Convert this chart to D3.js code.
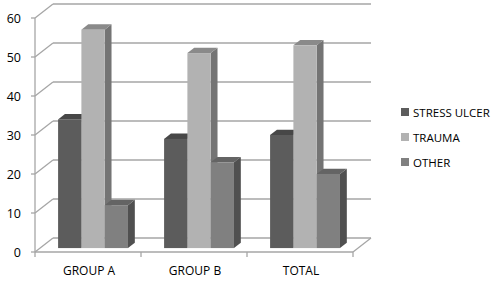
<!DOCTYPE html>
<html>
<head>
<meta charset="utf-8">
<script src="https://cdn.jsdelivr.net/npm/d3@7"></script>
<style>
  body { margin: 0; background: #fff; }
  text { font-family: "Open Sans", "Liberation Sans", sans-serif; fill: #000; }
</style>
</head>
<body>
<svg id="chart" width="500" height="284"></svg>
<script>
//////////////////// DATA ////////////////////
const categories = ["GROUP A", "GROUP B", "TOTAL"];
const seriesNames = ["STRESS ULCER", "TRAUMA", "OTHER"];
const stressUlcer = [33, 28, 29];
const trauma = [56, 50, 52];
const other = [11, 22, 19];
const yTicks = [0, 10, 20, 30, 40, 50, 60];

//////////////////// SIZES ////////////////////
const svg = d3.select("#chart");
const plot = { left: 35, right: 353, top: 18, bottom: 252 };
const depth = { dx: 18, dy: -14 };        // floor / wall depth
const barZ = { front: 0.28, back: 0.66 }; // bar position inside the depth

// colours: front, side, top
const colors = [
    { front: "#5c5c5c", side: "#454545", top: "#474747" },
    { front: "#b2b2b2", side: "#747474", top: "#8a8a8a" },
    { front: "#808080", side: "#505050", top: "#646464" }
];
const gridColor = "#a6a6a6";

//////////////////// SCALES ////////////////////
const x = d3.scaleBand().domain(categories).range([plot.left, plot.right]);
const y = d3.scaleLinear().domain([0, 60]).range([plot.bottom, plot.top]);

// project a point at depth z (0 front, 1 back)
const px = (xv, z) => xv + depth.dx * z;
const py = (yv, z) => yv + depth.dy * z;

//////////////////// WALLS ////////////////////
const walls = svg.append("g")
    .attr("stroke", gridColor)
    .attr("stroke-width", 1.3)
    .attr("fill", "none");

// back wall gridlines + left wall diagonals
yTicks.forEach(t => {
    walls.append("line")
        .attr("x1", px(plot.left, 1)).attr("y1", py(y(t), 1))
        .attr("x2", px(plot.right, 1)).attr("y2", py(y(t), 1));
    walls.append("line")
        .attr("x1", plot.left).attr("y1", y(t))
        .attr("x2", px(plot.left, 1)).attr("y2", py(y(t), 1));
    walls.append("line")
        .attr("x1", plot.left - 4).attr("y1", y(t))
        .attr("x2", plot.left).attr("y2", y(t));
});

// front vertical axis
walls.append("line")
    .attr("x1", plot.left).attr("y1", y(60))
    .attr("x2", plot.left).attr("y2", y(0));

// floor front edge and right edge
walls.append("line")
    .attr("x1", plot.left).attr("y1", y(0))
    .attr("x2", plot.right).attr("y2", y(0));
walls.append("line")
    .attr("x1", plot.right).attr("y1", y(0))
    .attr("x2", px(plot.right, 1)).attr("y2", py(y(0), 1));

// category tick marks
const tickXs = categories.map(c => x(c)).concat([plot.right]);
tickXs.forEach(tx => {
    walls.append("line")
        .attr("x1", tx).attr("y1", y(0))
        .attr("x2", tx).attr("y2", y(0) + 5);
});

//////////////////// AXIS LABELS ////////////////////
svg.append("g")
    .selectAll("text")
    .data(yTicks)
    .join("text")
    .attr("x", 21)
    .attr("y", d => y(d) + 4.5)
    .attr("text-anchor", "end")
    .attr("font-size", 12.5)
    .text(d => d);

svg.append("g")
    .selectAll("text")
    .data(categories)
    .join("text")
    .attr("x", d => x(d) + x.bandwidth() / 2 + 1)
    .attr("y", 275)
    .attr("text-anchor", "middle")
    .attr("font-size", 12)
    .text(d => d);

//////////////////// BARS ////////////////////
const series = [stressUlcer, trauma, other];
const barW = 23.3;
const bars = svg.append("g");

categories.forEach((c, ci) => {
    const groupLeft = x(c) + x.bandwidth() / 2 - barW * 1.5;
    series.forEach((vals, si) => {
        const x0 = px(groupLeft + si * barW, barZ.front);
        const x1 = x0 + barW;
        const yb = py(y(0), barZ.front);
        const yt = py(y(vals[ci]), barZ.front);
        const ddx = depth.dx * (barZ.back - barZ.front);
        const ddy = depth.dy * (barZ.back - barZ.front);
        const col = colors[si];

        // side
        bars.append("path")
            .attr("d", `M${x1},${yb}L${x1 + ddx},${yb + ddy}L${x1 + ddx},${yt + ddy}L${x1},${yt}Z`)
            .attr("fill", col.side);
        // top
        bars.append("path")
            .attr("d", `M${x0},${yt}L${x1},${yt}L${x1 + ddx},${yt + ddy}L${x0 + ddx},${yt + ddy}Z`)
            .attr("fill", col.top);
        // front
        bars.append("rect")
            .attr("x", x0).attr("y", yt)
            .attr("width", barW).attr("height", yb - yt)
            .attr("fill", col.front);
    });
});

//////////////////// LEGEND ////////////////////
const legend = svg.append("g")
    .selectAll("g")
    .data(seriesNames)
    .join("g")
    .attr("transform", (d, i) => `translate(401, ${112 + i * 25})`);

legend.append("rect")
    .attr("x", 0).attr("y", -4)
    .attr("width", 8).attr("height", 8)
    .attr("fill", (d, i) => colors[i].front);

legend.append("text")
    .attr("x", 12)
    .attr("y", 4.5)
    .attr("font-size", 11.5)
    .text(d => d);
</script>
</body>
</html>
